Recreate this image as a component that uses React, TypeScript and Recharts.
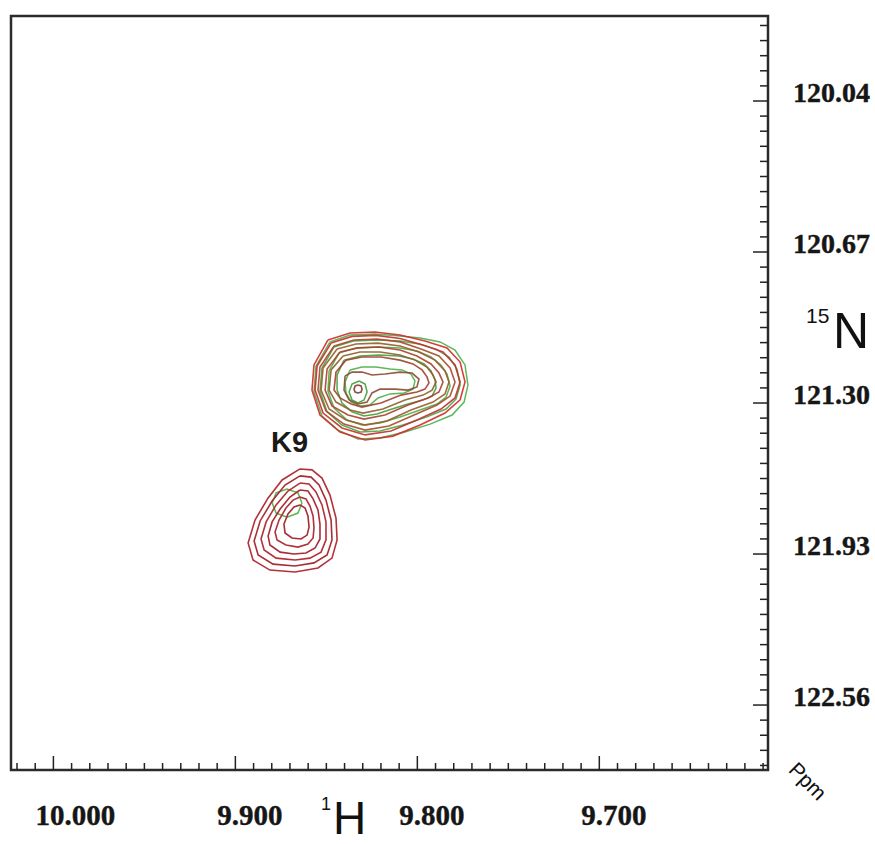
import React from 'react';
import { ScatterChart, Scatter, XAxis, YAxis, ReferenceArea, ReferenceDot } from 'recharts';

type Pt = [number, number];

// axis ranges (ppm), 1H runs right-to-left, 15N increases downward
const X_DOMAIN: [number, number] = [9.6073, 10.0233];
const Y_DOMAIN: [number, number] = [119.6854, 122.831];
const X_MAJOR = [10.0, 9.9, 9.8, 9.7];
const Y_MAJOR = [120.04, 120.67, 121.3, 121.93, 122.56];
const X_MINOR_STEP = 0.01;
const Y_MINOR_STEP = 0.063;

const xTicks = Array.from({ length: 42 }, (_, i) => +(10.02 - i * X_MINOR_STEP).toFixed(3));
const yTicks = Array.from({ length: 50 }, (_, i) => +(120.04 + (i - 5) * Y_MINOR_STEP).toFixed(3));

// K9 peak (reference spectrum, red) and shifted peak (green)
const k9Red1: Pt[] = [[9.8645,121.575],[9.8579,121.579],[9.8524,121.613],[9.8480,121.684],[9.8447,121.780],[9.8441,121.871],[9.8469,121.947],[9.8546,121.988],[9.8672,122.005],[9.8810,121.997],[9.8903,121.955],[9.8930,121.884],[9.8892,121.788],[9.8820,121.696],[9.8743,121.621]];
const k9Red2: Pt[] = [[9.8645,121.604],[9.8584,121.609],[9.8540,121.642],[9.8502,121.705],[9.8474,121.788],[9.8469,121.871],[9.8496,121.934],[9.8568,121.967],[9.8672,121.980],[9.8793,121.972],[9.8875,121.934],[9.8897,121.876],[9.8864,121.792],[9.8798,121.709],[9.8727,121.642]];
const k9Red3: Pt[] = [[9.8645,121.634],[9.8595,121.638],[9.8557,121.671],[9.8524,121.725],[9.8502,121.796],[9.8502,121.871],[9.8529,121.922],[9.8590,121.947],[9.8672,121.955],[9.8776,121.947],[9.8842,121.913],[9.8859,121.867],[9.8831,121.796],[9.8776,121.725],[9.8711,121.667]];
const k9Red4: Pt[] = [[9.8645,121.663],[9.8601,121.667],[9.8573,121.700],[9.8546,121.746],[9.8535,121.805],[9.8535,121.867],[9.8562,121.905],[9.8612,121.926],[9.8678,121.930],[9.8754,121.922],[9.8810,121.892],[9.8820,121.855],[9.8798,121.796],[9.8754,121.742],[9.8700,121.692]];
const k9Red5: Pt[] = [[9.8645,121.692],[9.8612,121.700],[9.8590,121.730],[9.8573,121.771],[9.8568,121.821],[9.8573,121.863],[9.8601,121.888],[9.8656,121.901],[9.8722,121.892],[9.8771,121.871],[9.8782,121.838],[9.8760,121.788],[9.8722,121.738],[9.8683,121.705]];
const k9Red6: Pt[] = [[9.8645,121.725],[9.8617,121.738],[9.8601,121.771],[9.8595,121.817],[9.8606,121.851],[9.8639,121.867],[9.8689,121.863],[9.8727,121.842],[9.8733,121.805],[9.8711,121.763],[9.8678,121.734]];
const k9Green: Pt[] = [[9.8634,121.717],[9.8656,121.759],[9.8716,121.776],[9.8776,121.759],[9.8798,121.717],[9.8776,121.675],[9.8716,121.659],[9.8656,121.675]];

// neighbouring peak, red contours outer -> inner
const pkRed1: Pt[] = [[9.8491,121.037],[9.8370,121.008],[9.8233,121.004],[9.8095,121.016],[9.7958,121.041],[9.7837,121.070],[9.7765,121.129],[9.7738,121.212],[9.7765,121.287],[9.7848,121.342],[9.7985,121.392],[9.8134,121.438],[9.8287,121.454],[9.8425,121.421],[9.8535,121.350],[9.8579,121.246],[9.8568,121.141]];
const pkRed2: Pt[] = [[9.8474,121.050],[9.8359,121.022],[9.8227,121.018],[9.8095,121.031],[9.7969,121.058],[9.7859,121.087],[9.7793,121.141],[9.7765,121.212],[9.7793,121.279],[9.7870,121.325],[9.8002,121.371],[9.8145,121.417],[9.8287,121.433],[9.8414,121.404],[9.8518,121.342],[9.8562,121.246],[9.8551,121.146]];
const pkRed3: Pt[] = [[9.8458,121.062],[9.8348,121.037],[9.8222,121.033],[9.8095,121.045],[9.7980,121.075],[9.7881,121.104],[9.7820,121.154],[9.7793,121.212],[9.7820,121.271],[9.7892,121.308],[9.8018,121.350],[9.8156,121.396],[9.8287,121.413],[9.8403,121.388],[9.8502,121.333],[9.8546,121.246],[9.8535,121.150]];
const pkRed4: Pt[] = [[9.8441,121.075],[9.8337,121.054],[9.8216,121.050],[9.8095,121.062],[9.7991,121.087],[9.7903,121.121],[9.7848,121.166],[9.7826,121.212],[9.7848,121.262],[9.7914,121.296],[9.8035,121.329],[9.8167,121.375],[9.8287,121.392],[9.8392,121.371],[9.8485,121.325],[9.8529,121.246],[9.8518,121.154]];
const pkRed5: Pt[] = [[9.8425,121.087],[9.8326,121.070],[9.8211,121.066],[9.8095,121.079],[9.8002,121.104],[9.7925,121.137],[9.7881,121.175],[9.7859,121.212],[9.7881,121.254],[9.7941,121.279],[9.8051,121.308],[9.8178,121.350],[9.8293,121.367],[9.8381,121.350],[9.8469,121.312],[9.8507,121.246],[9.8496,121.158]];
const pkRed6: Pt[] = [[9.8408,121.104],[9.8315,121.087],[9.8205,121.087],[9.8095,121.100],[9.8013,121.121],[9.7947,121.150],[9.7914,121.183],[9.7897,121.212],[9.7919,121.246],[9.7969,121.267],[9.8068,121.287],[9.8189,121.325],[9.8298,121.342],[9.8370,121.329],[9.8447,121.296],[9.8485,121.246],[9.8474,121.162]];
const pkRed7: Pt[] = [[9.8392,121.121],[9.8304,121.108],[9.8200,121.108],[9.8095,121.121],[9.8024,121.137],[9.7974,121.162],[9.7947,121.191],[9.7936,121.216],[9.7958,121.242],[9.8002,121.254],[9.8090,121.267],[9.8200,121.300],[9.8304,121.317],[9.8364,121.304],[9.8425,121.279],[9.8458,121.246],[9.8447,121.171]];
const pkRed8: Pt[] = [[9.8397,121.187],[9.8359,121.171],[9.8304,121.171],[9.8249,121.183],[9.8178,121.179],[9.8095,121.171],[9.8029,121.175],[9.7991,121.200],[9.8002,121.233],[9.8051,121.246],[9.8123,121.242],[9.8205,121.242],[9.8249,121.258],[9.8276,121.296],[9.8326,121.304],[9.8375,121.287],[9.8403,121.246]];
const pkRed9: Pt[] = [[9.8326,121.225],[9.8309,121.229],[9.8304,121.242],[9.8309,121.254],[9.8326,121.258],[9.8342,121.254],[9.8348,121.242],[9.8342,121.229]];

// neighbouring peak, green contours outer -> inner
const pkGreen1: Pt[] = [[9.8480,121.045],[9.8370,121.016],[9.8233,121.012],[9.8095,121.020],[9.7985,121.029],[9.7875,121.045],[9.7793,121.079],[9.7738,121.141],[9.7722,121.225],[9.7743,121.296],[9.7809,121.350],[9.7930,121.388],[9.8068,121.421],[9.8205,121.446],[9.8326,121.450],[9.8436,121.413],[9.8524,121.354],[9.8568,121.254],[9.8557,121.146]];
const pkGreen2: Pt[] = [[9.8458,121.066],[9.8353,121.041],[9.8222,121.037],[9.8095,121.041],[9.7991,121.054],[9.7897,121.075],[9.7826,121.108],[9.7782,121.158],[9.7765,121.225],[9.7787,121.283],[9.7842,121.325],[9.7947,121.358],[9.8079,121.392],[9.8205,121.417],[9.8315,121.421],[9.8414,121.392],[9.8496,121.337],[9.8535,121.250],[9.8524,121.154]];
const pkGreen3: Pt[] = [[9.8430,121.091],[9.8337,121.070],[9.8216,121.066],[9.8095,121.070],[9.8002,121.083],[9.7925,121.108],[9.7870,121.141],[9.7837,121.179],[9.7820,121.229],[9.7842,121.275],[9.7892,121.304],[9.7985,121.329],[9.8095,121.358],[9.8205,121.383],[9.8304,121.392],[9.8386,121.371],[9.8458,121.321],[9.8491,121.250],[9.8485,121.166]];
const pkGreen4: Pt[] = [[9.8403,121.121],[9.8315,121.104],[9.8211,121.100],[9.8101,121.104],[9.8024,121.116],[9.7963,121.137],[9.7925,121.166],[9.7903,121.204],[9.7897,121.237],[9.7919,121.271],[9.7969,121.287],[9.8051,121.304],[9.8139,121.325],[9.8222,121.346],[9.8293,121.354],[9.8359,121.337],[9.8414,121.300],[9.8441,121.246],[9.8441,121.183]];
const pkGreen5: Pt[] = [[9.8370,121.162],[9.8304,121.150],[9.8227,121.150],[9.8150,121.158],[9.8084,121.162],[9.8035,121.179],[9.8013,121.208],[9.8024,121.242],[9.8073,121.258],[9.8150,121.262],[9.8216,121.279],[9.8260,121.308],[9.8315,121.312],[9.8364,121.296],[9.8392,121.258],[9.8397,121.212]];
const pkGreen6: Pt[] = [[9.8320,121.208],[9.8287,121.221],[9.8276,121.254],[9.8293,121.287],[9.8326,121.300],[9.8359,121.287],[9.8375,121.254],[9.8359,121.221]];

const greenContours = [pkGreen1, pkGreen2, pkGreen3, pkGreen4, pkGreen5, pkGreen6, k9Green];
const greenColors = ['#5cb85a', '#58b055', '#5cb85a', '#52a84f', '#5cb85a', '#4fa84c', '#5fb54f'];
const redContours = [pkRed1, pkRed2, pkRed3, pkRed4, pkRed5, pkRed6, pkRed7, pkRed8, pkRed9];
const redColors = ['#d22a2a', '#c2302b', '#a8482c', '#9a5a2c', '#a8402c', '#8f5e2c', '#a0402c', '#8a4a30', '#7f3a30'];
const k9Contours = [k9Red1, k9Red2, k9Red3, k9Red4, k9Red5, k9Red6];
const k9Colors = ['#b3323a', '#a92f37', '#b3323a', '#a92f37', '#b3323a', '#a52d35'];

const closed = (c: Pt[]) => [...c, c[0]].map(([x, y]) => ({ x, y }));
const isMajor = (list: number[], v: number) => list.some(m => Math.abs(m - v) < 1e-6);

const TICK_FONT = '"Liberation Serif", "Times New Roman", serif';
const SANS = '"Liberation Sans", Arial, sans-serif';

const XTick = (props: any) => {
  const { x, y, payload } = props;
  const major = isMajor(X_MAJOR, payload.value);
  return (
    <g>
      <line x1={x} x2={x} y1={y} y2={y - (major ? 14 : 7)} stroke="#222" strokeWidth={1.5} />
      {major && (
        <text x={x - 18} y={y + 55} textAnchor="start" fontFamily={TICK_FONT} fontWeight="bold" fontSize={29}
          fill="#161616" stroke="#161616" strokeWidth={0.4}>
          {payload.value.toFixed(3)}
        </text>
      )}
    </g>
  );
};

const YTick = (props: any) => {
  const { x, y, payload } = props;
  const major = isMajor(Y_MAJOR, payload.value);
  return (
    <g>
      <line x1={x} x2={x - (major ? 15 : 8)} y1={y} y2={y} stroke="#222" strokeWidth={1.5} />
      {major && (
        <text x={x + 25} y={y + 1} textAnchor="start" fontFamily={TICK_FONT} fontWeight="bold" fontSize={28}
          fill="#161616" stroke="#161616" strokeWidth={0.4}>
          {payload.value.toFixed(2)}
        </text>
      )}
    </g>
  );
};

const PeakLabel = (props: any) => {
  const { viewBox } = props;
  return (
    <text x={viewBox.x} y={viewBox.y} fontFamily={SANS} fontWeight="bold" fontSize={29} fill="#1a1a1a">K9</text>
  );
};

const noDot = () => <g />;

export default function App() {
  return (
    <div style={{ position: 'absolute', left: 0, top: 0, width: 875, height: 844, background: '#fff' }}>
      <ScatterChart width={875} height={844} margin={{ top: 16, right: 7, bottom: 4, left: 11 }}>
        <XAxis type="number" dataKey="x" domain={X_DOMAIN} reversed allowDataOverflow ticks={xTicks} interval={0}
          tickSize={0} tickMargin={0} tickLine={false} axisLine={false} height={70} tick={<XTick />} />
        <YAxis type="number" dataKey="y" orientation="right" domain={Y_DOMAIN} reversed allowDataOverflow ticks={yTicks}
          interval={0} tickSize={0} tickMargin={0} tickLine={false} axisLine={false} width={100} tick={<YTick />} />
        <ReferenceArea x1={X_DOMAIN[0]} x2={X_DOMAIN[1]} y1={Y_DOMAIN[0]} y2={Y_DOMAIN[1]} fill="none" fillOpacity={0}
          stroke="#2b2b2b" strokeWidth={2.5} />
        {greenContours.map((c, i) => (
          <Scatter key={`g-${i}`} data={closed(c)} fill={greenColors[i]} line={{ stroke: greenColors[i], strokeWidth: 1.5 }}
            shape={noDot} isAnimationActive={false} />
        ))}
        {redContours.map((c, i) => (
          <Scatter key={`r-${i}`} data={closed(c)} fill={redColors[i]} line={{ stroke: redColors[i], strokeWidth: 1.6, strokeOpacity: 0.9 }}
            shape={noDot} isAnimationActive={false} />
        ))}
        {k9Contours.map((c, i) => (
          <Scatter key={`k-${i}`} data={closed(c)} fill={k9Colors[i]} line={{ stroke: k9Colors[i], strokeWidth: 1.6 }}
            shape={noDot} isAnimationActive={false} />
        ))}
        <ReferenceDot x={9.8804} y={121.504} r={0} fill="none" stroke="none" label={<PeakLabel />} />
      </ScatterChart>
      <svg width={875} height={844} style={{ position: 'absolute', left: 0, top: 0, pointerEvents: 'none' }}>
        <text x={806} y={323} fontFamily={SANS} fontSize={21} fill="#111">15</text>
        <text x={833} y={348} fontFamily={SANS} fontSize={50} fill="#111">N</text>
        <text x={321} y={810} fontFamily={SANS} fontSize={18} fill="#111">1</text>
        <text x={333} y={834} fontFamily={SANS} fontSize={46} fill="#111">H</text>
        <text x={808} y={781} fontFamily={SANS} fontSize={21} fill="#111" textAnchor="middle" dominantBaseline="central"
          transform="rotate(45 808 781)">Ppm</text>
      </svg>
    </div>
  );
}
